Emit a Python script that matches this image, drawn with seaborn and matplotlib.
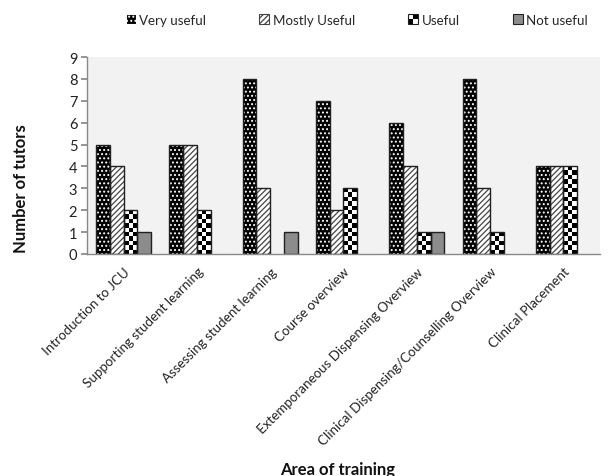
import matplotlib
matplotlib.use("Agg")
import matplotlib.pyplot as plt
import matplotlib.transforms as mtransforms
from matplotlib.patches import Patch, Rectangle
from matplotlib.legend_handler import HandlerBase
import seaborn as sns
import pandas as pd
import numpy as np

areas = [
    "Introduction to JCU",
    "Supporting student learning",
    "Assessing student learning",
    "Course overview",
    "Extemporaneous Dispensing Overview",
    "Clinical Dispensing/Counselling Overview",
    "Clinical Placement",
]
ratings = ["Very useful", "Mostly Useful", "Useful", "Not useful"]
very_useful = [5, 5, 8, 7, 6, 8, 4]
mostly_useful = [4, 5, 3, 2, 4, 3, 4]
useful = [2, 2, 0, 3, 1, 1, 4]
not_useful = [1, 0, 1, 0, 1, 0, 0]
y_ticks = list(range(0, 10))

counts = {
    "Very useful": very_useful,
    "Mostly Useful": mostly_useful,
    "Useful": useful,
    "Not useful": not_useful,
}
rows = []
for r in ratings:
    for a, v in zip(areas, counts[r]):
        rows.append({"Area": a, "Rating": r, "Tutors": v})
df = pd.DataFrame(rows)

sns.set_theme(style="white")
plt.rcParams["font.family"] = ["Lato", "DejaVu Sans"]
plt.rcParams["hatch.linewidth"] = 0.9

# face colour, hatch pattern, hatch colour for each rating
styles = {
    "Very useful": ("#000000", "....", "#ffffff"),
    "Mostly Useful": ("#ffffff", "//////", "#444444"),
    "Useful": ("#ffffff", "", "#ffffff"),
    "Not useful": ("#8c8c8c", "", "#8c8c8c"),
}
outline = "#202020"
checker_px = 4.4


class CheckerHandler(HandlerBase):
    """Legend key drawn as a small 2x2 checkerboard."""

    def create_artists(self, legend, orig_handle, xdescent, ydescent,
                       width, height, fontsize, trans):
        arts = []
        hw, hh = width / 2, height / 2
        for i in range(2):
            for j in range(2):
                col = "#000000" if (i + j) % 2 == 0 else "#ffffff"
                arts.append(Rectangle((-xdescent + i * hw, -ydescent + j * hh), hw, hh,
                                      facecolor=col, edgecolor="none", transform=trans))
        arts.append(Rectangle((-xdescent, -ydescent), width, height, fill=False,
                              edgecolor=outline, linewidth=0.8, transform=trans))
        return arts


fig = plt.figure(figsize=(6.13, 4.77), dpi=100)
ax = fig.add_axes([87 / 613, 1 - 255 / 477, 513 / 613, 197 / 477])
ax.set_facecolor("#f2f2f2")

sns.barplot(data=df, x="Area", y="Tutors", hue="Rating", hue_order=ratings,
            order=areas, palette={r: styles[r][0] for r in ratings},
            width=0.75, gap=0, ax=ax, legend=False, errorbar=None)

ax.set_ylim(0, 9)
ax.set_xlim(-0.5, len(areas) - 0.5)

for rating, cont in zip(ratings, ax.containers):
    face, hatch, hcol = styles[rating]
    for p in cont.patches:
        if p.get_height() <= 0:
            continue
        p.set_facecolor(face)
        p.set_hatch(hatch)
        p.set_edgecolor(hcol)
        p.set_linewidth(0)
        x0, y0 = p.get_xy()
        w, h = p.get_width(), p.get_height()
        if rating == "Useful":
            # checkerboard fill sized in screen pixels
            (px0, py0), (px1, py1) = ax.transData.transform([(x0, y0), (x0 + w, y0 + h)])
            nx = max(1, int(round(abs(px1 - px0) / checker_px)))
            ny = max(1, int(round(abs(py1 - py0) / checker_px)))
            jj, ii = np.meshgrid(np.arange(nx), np.arange(ny))
            board = ((ii + jj) % 2).astype(float)
            ax.imshow(board, cmap="gray", vmin=0, vmax=1, extent=[x0, x0 + w, y0, y0 + h],
                      aspect="auto", interpolation="nearest", origin="lower",
                      zorder=p.get_zorder() + 0.05)
        ax.add_patch(Rectangle((x0, y0), w, h, fill=False, edgecolor=outline,
                               linewidth=1.0, zorder=p.get_zorder() + 0.1))

ax.set_ylim(0, 9)
ax.set_xlim(-0.5, len(areas) - 0.5)
ax.set_aspect("auto")
ax.set_yticks(y_ticks)
ax.set_yticklabels([str(t) for t in y_ticks], fontsize=10.5, color="#222222")
ax.set_xticks(range(len(areas)))
ax.set_xticklabels(areas, rotation=45, ha="right", rotation_mode="anchor",
                   fontsize=9.6, color="#222222")
shift = mtransforms.ScaledTranslation(4 / 100, 0, fig.dpi_scale_trans)
for lab in ax.get_xticklabels():
    lab.set_transform(lab.get_transform() + shift)
ax.set_xticks([i - 0.5 for i in range(len(areas) + 1)], minor=True)
ax.tick_params(axis="x", which="major", length=0, pad=8)
ax.tick_params(axis="x", which="minor", length=5, color="#888888", direction="out")
ax.tick_params(axis="y", length=4, color="#888888", direction="out", left=True, pad=3)

for s in ["top", "right"]:
    ax.spines[s].set_visible(False)
for s in ["left", "bottom"]:
    ax.spines[s].set_color("#888888")
    ax.spines[s].set_linewidth(1.0)

ax.set_ylabel("Number of tutors", fontsize=12, fontweight="bold", color="#111111")
ax.yaxis.set_label_coords(-0.114, 0.335)
ax.set_xlabel("Area of training", fontsize=12, fontweight="bold", color="#111111")
ax.xaxis.set_label_coords(0.488, -1.05)

handles = [Patch(facecolor=styles[r][0], hatch=styles[r][1],
                 edgecolor=styles[r][2] if styles[r][1] else outline,
                 linewidth=0.8, label=r) for r in ratings]
fig.legend(handles=handles, loc="center", bbox_to_anchor=(0.582, 0.956), ncol=4,
           frameon=False, fontsize=9.6, handlelength=0.75, handleheight=0.75,
           handletextpad=0.25, columnspacing=4.0,
           handler_map={handles[2]: CheckerHandler()})

fig.savefig("out.png", dpi=100, facecolor="white")
